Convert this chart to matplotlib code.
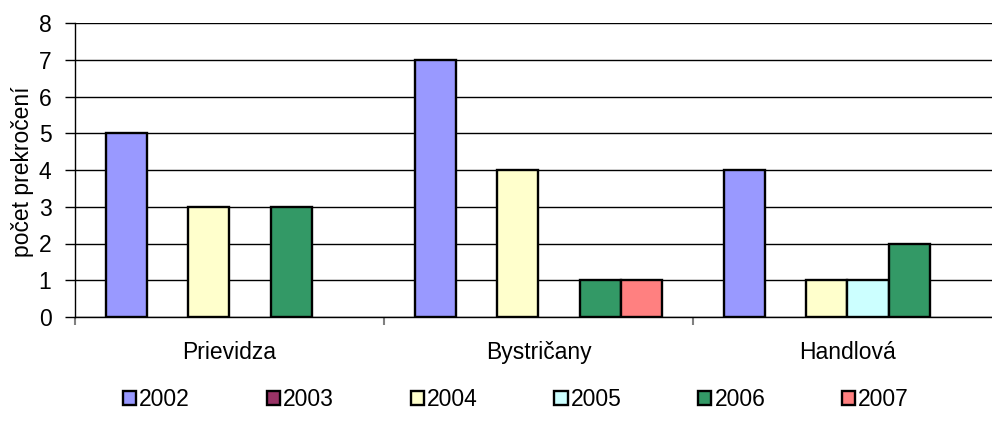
import matplotlib
matplotlib.use("Agg")
import matplotlib.pyplot as plt
import numpy as np

plt.rcParams['font.family'] = ['Liberation Sans', 'DejaVu Sans']

categories = ["Prievidza", "Bystričany", "Handlová"]
years = ["2002", "2003", "2004", "2005", "2006", "2007"]
values = {
    "2002": [5, 7, 4],
    "2003": [0, 0, 0],
    "2004": [3, 4, 1],
    "2005": [0, 0, 1],
    "2006": [3, 1, 2],
    "2007": [0, 1, 0],
}
colors = ["#9999FF", "#993366", "#FFFFCC", "#CCFFFF", "#339966", "#FF8080"]
ylabel = "počet prekročení"

FS = 16.5
W, H = 992, 426
fig = plt.figure(figsize=(W / 100, H / 100), dpi=100)
left, right, top, bottom = 75, 1002, 23, 317
ax = fig.add_axes([left / W, 1 - bottom / H, (right - left) / W, (bottom - top) / H])

n = len(years)
w = 1 / (n + 1.5)
x = np.arange(len(categories)) + 0.5
handles = []
for j, (yr, c) in enumerate(zip(years, colors)):
    vals = values[yr]
    b = ax.bar(x + (j - (n - 1) / 2) * w, vals, width=w, color=c,
               edgecolor="black", linewidth=1.7, zorder=3, label=yr)
    for rect, v in zip(b.patches, vals):
        if v == 0:
            rect.set_linewidth(0)
    handles.append(b)

ax.set_xlim(0, len(categories))
ax.set_ylim(0, 8)
ax.set_yticks(range(0, 9))
ax.yaxis.grid(True, color="black", linewidth=1.0, zorder=0)
ax.set_axisbelow(True)
for s in ["top", "right"]:
    ax.spines[s].set_visible(False)
ax.spines["left"].set_linewidth(1.0)
ax.spines["bottom"].set_linewidth(1.0)

ax.set_xticks(np.arange(0, len(categories) + 1))
ax.set_xticklabels([])
ax.set_xticks(x, minor=True)
ax.set_xticklabels(categories, minor=True, fontsize=FS)
ax.tick_params(axis="x", which="minor", length=0, pad=17)
ax.tick_params(axis="x", which="major", length=6, color="#808080", width=1.5)
ax.tick_params(axis="y", length=7, width=1.0, labelsize=FS, pad=10)

fig.text(23 / W, 1 - 172 / H, ylabel, rotation=90, fontsize=FS,
         ha="center", va="center")

leg = fig.legend(handles=[h.patches[0] for h in handles], labels=years, loc="center",
                 bbox_to_anchor=(516 / W, 1 - 400 / H), ncol=6, frameon=False,
                 fontsize=FS, handlelength=0.57, handleheight=0.57,
                 handletextpad=0.13, columnspacing=3.36, borderaxespad=0)
for p, c in zip(leg.get_patches(), colors):
    p.set_linewidth(1.7)
    p.set_facecolor(c)
    p.set_edgecolor("black")

fig.savefig("out.png", dpi=100)
